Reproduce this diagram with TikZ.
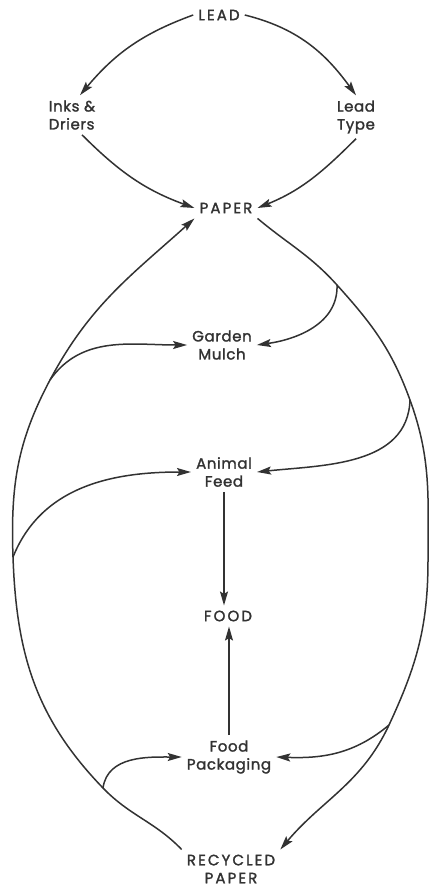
\documentclass[tikz,border=0pt]{standalone}
\usepackage{fontspec}
\setmainfont{Poppins}[LetterSpace=4.0, FakeBold=1.6]
\newfontfamily\capsfont{Poppins}[LetterSpace=14.0, FakeBold=1.6]
\definecolor{inkgray}{RGB}{50, 50, 50}
\usetikzlibrary{arrows.meta, positioning}

\begin{document}
\begin{tikzpicture}[x=1pt, y=1pt,
    flow/.style={draw=inkgray, line width=1.5pt, -{Stealth[length=14pt, width=8pt, inset=2.5pt]}},
    tag/.style={text=inkgray, font=\fontsize{15}{18}\selectfont, align=center, inner sep=5pt},
    captag/.style={tag, font=\fontsize{15}{18}\selectfont\capsfont}]
    \useasboundingbox (0,0) rectangle (430,-889);

    % Nodes
    \node[captag] (lead) at (219,-15) {LEAD};
    \node[tag, align=left] (inks) at (72,-115) {Inks \&\\Driers};
    \node[tag] (leadtype) at (356,-117) {Lead\\Type};
    \node[captag] (paper) at (226,-208) {PAPER};
    \node[tag] (mulch) at (222,-345) {Garden\\Mulch};
    \node[tag] (feed) at (224,-472) {Animal\\Feed};
    \node[captag] (food) at (228,-616) {FOOD};
    \node[tag] (packaging) at (229,-757) {Food\\Packaging};
    \node[captag] (recycled) at (231,-869) {RECYCLED\\PAPER};

    % Branch points on the two big arcs
    \coordinate (l1) at (103,-788);
    \coordinate (l2) at (13,-557);
    \coordinate (l3) at (50,-380);
    \coordinate (r1) at (337,-285);
    \coordinate (r2) at (410,-400);
    \coordinate (redge) at (428,-560);
    \coordinate (r3) at (389,-725);

    % Lead cycle
    \draw[flow] (lead.west) to[out=200, in=50] ([xshift=8pt]inks.north);
    \draw[flow] (lead.east) to[out=-14, in=126] (leadtype.north);
    \draw[flow] ([xshift=10pt]inks.south) to[out=-45, in=160] (paper.west);
    \draw[flow] (leadtype.south) to[out=225, in=22] (paper.east);

    % Big arcs
    \draw[flow] (recycled.north west) to[out=134, in=-46] (l1) to[out=134, in=-88] (l2)
        to[out=92, in=-118] (l3) to[out=62, in=-138] (paper.south west);
    \draw[flow] (paper.south east) to[out=-40, in=132] (r1) to[out=-48, in=110] (r2)
        to[out=-70, in=90] (redge) to[out=-90, in=65] (r3) to[out=-115, in=50] (recycled.north east);

    % Branches
    \draw[flow] (r1) to[out=-88, in=8] (mulch.east);
    \draw[flow] (l3) to[out=55, in=180] (mulch.west);
    \draw[flow] (r2) to[out=-92, in=6] (feed.east);
    \draw[flow] (l2) to[out=68, in=180] (feed.west);
    \draw[flow] (l1) to[out=82, in=180] (packaging.west);
    \draw[flow] (r3) to[out=-140, in=-2] (packaging.east);

    % Into food
    \draw[flow] (feed.south) -- (feed.south |- food.north);
    \draw[flow] (packaging.north) -- (packaging.north |- food.south);
\end{tikzpicture}
\end{document}
